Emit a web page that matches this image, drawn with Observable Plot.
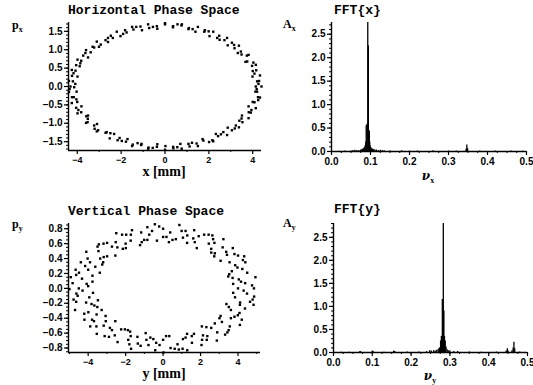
<!DOCTYPE html>
<html><head><meta charset="utf-8">
<script src="https://cdn.jsdelivr.net/npm/d3@7"></script>
<script src="https://cdn.jsdelivr.net/npm/@observablehq/plot@0.6"></script>
<style>
body{margin:0;background:#fff;}
#wrap{position:relative;width:533px;height:385px;overflow:hidden;background:#fff;}
.panel{position:absolute;}
.title{position:absolute;font:bold 13px "Liberation Mono",monospace;white-space:pre;color:#000;line-height:1;}
.lab{position:absolute;font:bold 12px "Liberation Serif",serif;color:#000;white-space:pre;line-height:1;}
.lab sub{font-size:8px;vertical-align:-3px;}
.xl{position:absolute;font:bold 14px "Liberation Serif",serif;color:#000;white-space:pre;line-height:1;transform:translateX(-50%);}
.xl sub{font-size:8px;vertical-align:-3px;font-family:"Liberation Serif",serif;font-style:normal;}
.nu{font-family:"DejaVu Serif",serif;font-style:italic;font-size:12px;}
</style></head><body><div id="wrap"></div>
<script>
// ---- Horizontal phase space (x [mm], p_x) ----
const horizontalPts = [
[4.4,0],[4.14,0],[4.2,.14],[4.29,.15],[3.99,.27],[4.33,.30],[4.16,.44],[4.0,.42],[4.14,.59],[3.97,.56],
[3.75,.68],[3.67,.67],[3.73,.84],[3.81,.86],[3.46,.95],[3.32,.91],[3.37,1.11],[3.17,1.04],[2.86,1.12],[3.05,1.19],
[2.71,1.26],[2.83,1.32],[2.38,1.32],[2.47,1.38],[2.2,1.49],[2.03,1.37],[1.82,1.53],[1.79,1.49],[1.39,1.49],[1.5,1.62],
[1.09,1.59],[1.07,1.56],[.77,1.69],[.75,1.66],[.36,1.61],[.37,1.64],
[0,1.69],[0,1.72],[-.37,1.64],[-.35,1.57],[-.77,1.69],[-.72,1.59],[-1.05,1.53],[-1.12,1.63],[-1.44,1.55],[-1.5,1.62],
[-1.75,1.47],[-1.82,1.53],[-2.2,1.49],[-2.03,1.37],[-2.47,1.38],[-2.38,1.32],[-2.6,1.21],[-2.71,1.26],[-3.11,1.22],[-2.93,1.14],
[-3.23,1.06],[-3.3,1.08],[-3.39,.93],[-3.6,.99],[-3.73,.84],[-3.51,.79],[-3.99,.73],[-3.82,.70],[-3.89,.55],[-4.05,.58],
[-4.08,.43],[-4.25,.45],[-3.99,.27],[-4.24,.29],[-4.38,.15],[-4.2,.14],
[-4.31,0],[-4.14,-.02],[-4.38,-.15],[-4.03,-.14],[-4.16,-.29],[-4.24,-.29],[-4.0,-.42],[-4.25,-.45],[-4.05,-.58],[-3.81,-.54],
[-3.99,-.73],[-3.82,-.70],[-3.51,-.79],[-3.59,-.81],[-3.53,-.97],[-3.6,-.99],[-3.23,-1.06],[-3.1,-1.02],[-3.11,-1.22],[-3.05,-1.19],
[-2.66,-1.24],[-2.71,-1.26],[-2.32,-1.29],[-2.52,-1.41],[-2.16,-1.46],[-2.07,-1.40],[-1.78,-1.5],[-1.71,-1.43],[-1.5,-1.62],[-1.47,-1.58],
[-1.07,-1.56],[-1.09,-1.59],[-.75,-1.66],[-.77,-1.69],[-.35,-1.57],[-.37,-1.64],
[0,-1.72],[.02,-1.62],[.37,-1.64],[.38,-1.68],[.70,-1.56],[.76,-1.69],[1.12,-1.63],[1.07,-1.56],[1.5,-1.62],[1.44,-1.55],
[1.75,-1.47],[1.71,-1.43],[2.16,-1.46],[2.2,-1.49],[2.42,-1.35],[2.32,-1.29],[2.83,-1.32],[2.66,-1.24],[2.86,-1.12],[3.05,-1.19],
[3.23,-1.06],[3.37,-1.11],[3.39,-.93],[3.53,-.97],[3.81,-.86],[3.51,-.79],[3.91,-.71],[3.82,-.70],[3.81,-.54],[4.14,-.59],
[4.08,-.43],[4.0,-.42],[4.33,-.30],[4.24,-.29],[4.12,-.14],[4.2,-.14],
[4.26,.07],[4.08,.35],[4.03,.65],[3.49,.87],[3.15,1.13],[2.49,1.27],[1.99,1.50],[1.26,1.56],[.57,1.69],
[-.55,1.62],[-1.31,1.62],[-1.91,1.43],[-2.6,1.32],[-3.01,1.08],[-3.63,.91],[-3.86,.63],[-4.17,.36],[-4.09,.07],
[-4.35,-.07],[-4.04,-.35],[-3.95,-.64],[-3.52,-.88],[-3.21,-1.15],[-2.49,-1.27],[-1.97,-1.48],[-1.25,-1.54],[-.56,-1.67],
[.56,-1.65],[1.23,-1.53],[2.01,-1.51],[2.55,-1.30],[3.18,-1.14],[3.49,-.87],[3.94,-.64],[4.25,-.37],[4.18,-.07]
];
// ---- Vertical phase space (y [mm], p_y) ----
const verticalPts = [
[4.85,0],[4.0,0],[4.38,.07],[3.74,.06],[4.93,.15],[4.04,.12],[4.49,.21],[3.48,.16],[4.23,.26],[3.67,.23],
[4.39,.35],[3.85,.31],[3.55,.35],[4.33,.43],[3.81,.46],[3.07,.37],[3.37,.49],[3.72,.54],[2.76,.47],[3.18,.55],
[3.22,.66],[2.57,.53],[2.44,.60],[2.67,.66],[1.8,.54],[2.43,.72],[1.9,.70],[1.69,.62],[1.66,.78],[1.28,.61],
[1.06,.68],[1.2,.77],[.87,.85],[.68,.66],[.38,.75],[.31,.62],
[0,.80],[0,.69],[-.44,.86],[-.33,.64],[-.74,.72],[-.84,.82],[-1.01,.65],[-1.17,.75],[-1.66,.78],[-1.23,.58],
[-1.73,.64],[-1.97,.72],[-2.5,.74],[-2.0,.60],[-2.53,.62],[-2.15,.53],[-2.99,.61],[-2.73,.56],[-2.55,.44],[-3.43,.59],
[-3.45,.50],[-2.99,.43],[-4.1,.49],[-3.36,.40],[-3.25,.32],[-4.03,.40],[-4.39,.35],[-3.62,.29],[-4.0,.25],[-3.38,.21],
[-4.49,.21],[-3.77,.17],[-4.93,.15],[-4.33,.13],[-4.08,.06],[-4.83,.07],
[-4.5,0],[-5.0,-.01],[-3.74,-.06],[-4.63,-.07],[-4.78,-.15],[-3.94,-.12],[-4.11,-.19],[-3.48,-.16],[-4.7,-.29],[-3.67,-.23],
[-3.99,-.32],[-4.21,-.34],[-3.55,-.35],[-4.2,-.42],[-3.07,-.37],[-3.69,-.44],[-3.56,-.51],[-3.06,-.44],[-2.55,-.44],[-3.54,-.61],
[-2.73,-.56],[-3.12,-.64],[-2.58,-.63],[-2.24,-.55],[-2.43,-.72],[-1.88,-.56],[-1.73,-.64],[-1.86,-.69],[-1.71,-.81],[-1.37,-.65],
[-.93,-.60],[-1.2,-.77],[-.78,-.76],[-.68,-.66],[-.42,-.83],[-.37,-.73],
[0,-.69],[.02,-.86],[.4,-.80],[.33,-.64],[.77,-.75],[.84,-.82],[1.29,-.83],[1.06,-.68],[1.28,-.61],[1.54,-.73],
[2.05,-.76],[1.65,-.61],[2.13,-.63],[2.33,-.69],[2.07,-.51],[2.87,-.70],[2.89,-.59],[2.57,-.53],[3.43,-.59],[2.76,-.47],
[3.14,-.45],[3.56,-.51],[4.1,-.49],[3.07,-.37],[3.81,-.38],[4.2,-.42],[3.62,-.29],[4.08,-.33],[4.37,-.27],[3.38,-.21],
[4.83,-.22],[4.11,-.19],[3.84,-.12],[4.78,-.15],[4.48,-.07],[3.74,-.06],
[4.75,.04],[3.71,.14],[3.97,.28],[4.0,.44],[2.73,.43],[2.74,.61],[2.19,.72],[1.29,.71],[.50,.65],
[-.59,.77],[-1.14,.62],[-2.19,.72],[-2.44,.55],[-3.5,.56],[-3.2,.35],[-4.16,.30],[-4.64,.18],[-4.0,.03],
[-4.3,-.03],[-4.64,-.18],[-3.51,-.25],[-3.79,-.42],[-3.17,-.50],[-2.89,-.65],[-1.76,-.58],[-1.35,-.74],[-.52,-.68],
[.62,-.81],[1.2,-.66],[2.08,-.69],[2.31,-.52],[3.5,-.56],[3.62,-.40],[3.51,-.25],[4.64,-.18],[4.3,-.03],
[4.16,.09],[3.53,.19],[4.26,.38],[3.41,.45],[2.57,.48],[2.63,.71],[1.61,.67],[.99,.77],[.18,.69],
[-.21,.83],[-.84,.65],[-1.72,.72],[-1.99,.54],[-3.18,.60],[-3.17,.42],[-3.9,.35],[-4.67,.25],[-3.77,.09],
[-4.56,-.10],[-3.82,-.21],[-3.28,-.29],[-3.89,-.51],[-2.84,-.53],[-2.04,-.55],[-1.8,-.75],[-.89,-.69],[-.19,-.76],
[.16,-.64],[1.04,-.81],[1.53,-.64],[2.36,-.64],[3.31,-.62],[3.01,-.40],[3.99,-.36],[4.1,-.22],[4.86,-.11]
];
// ---- FFT{x}: [nu_x, A_x] ----
const fftX = [
[.02,.005],[.035,.008],[.05,.01],[.055,.02],[.06,.025],[.065,.02],[.07,.02],[.075,.03],[.078,.04],[.08,.05],
[.082,.06],[.084,.08],[.086,.12],[.088,.2],[.089,.55],[.091,.58],[.093,2.75],[.0945,2.25],[.096,.45],[.097,.42],
[.098,.2],[.099,.12],[.101,.08],[.103,.06],[.105,.05],[.108,.04],[.111,.03],[.115,.03],[.12,.02],[.125,.025],
[.13,.02],[.135,.015],[.15,.01],[.18,.015],[.2,.008],[.22,.01],[.26,.015],[.3,.01],[.32,.008],[.345,.05],
[.347,.14],[.349,.06],[.38,.008],[.42,.01],[.46,.008],[.49,.006]
];
// ---- FFT{y}: [nu_y, A_y] ----
const fftY = [
[.02,.005],[.04,.008],[.068,.02],[.07,.015],[.1,.035],[.102,.02],[.13,.008],[.155,.03],[.158,.02],[.19,.01],
[.22,.01],[.24,.02],[.248,.04],[.252,.03],[.258,.04],[.262,.03],[.266,.05],[.27,.07],[.273,.1],[.276,.25],
[.278,.35],[.2805,1.15],[.282,.5],[.283,2.8],[.2845,.9],[.286,.35],[.288,.25],[.29,.12],[.293,.06],[.297,.04],
[.3,.03],[.31,.02],[.32,.02],[.35,.01],[.38,.008],[.42,.01],[.445,.03],[.448,.08],[.45,.03],[.46,.04],
[.463,.1],[.465,.22],[.467,.08],[.48,.01]
];
// tick values
const pxTicks = [-1.5,-1.0,-0.5,0,0.5,1.0,1.5];
const pyTicks = [-0.8,-0.6,-0.4,-0.2,0,0.2,0.4,0.6,0.8];
const posTicks = [-4,-2,0,2,4];
const ampTicks = [0,0.5,1.0,1.5,2.0,2.5];
const nuTicks = [0,0.1,0.2,0.3,0.4,0.5];

const wrap = document.getElementById("wrap");
const f1 = d3.format(".1f");
const fi = d3.format("d");
const range = (a, b, s) => d3.range(Math.round((b - a) / s) + 1).map(i => +(a + i * s).toFixed(4));

function panel(o) {
  const svg = Plot.plot({
    width: o.width, height: o.height,
    marginLeft: o.mL, marginRight: o.mR, marginTop: o.mT, marginBottom: o.mB,
    x: {domain: o.xDomain},
    y: {domain: o.yDomain},
    style: {fontFamily: "Liberation Sans, sans-serif", fontSize: "10px", fontWeight: "bold", background: "transparent", overflow: "visible", color: "#000"},
    marks: [
      ...o.marks,
      Plot.axisY({ticks: o.yMinor, tickSize: 2, tickFormat: () => "", label: null, strokeWidth: 1}),
      Plot.axisY({ticks: o.yMajor, tickSize: 4, tickPadding: 2, tickFormat: o.yFmt, label: null, strokeWidth: 1.2, fontSize: o.yFont}),
      Plot.axisX({ticks: o.xMinor, tickSize: 2, tickFormat: () => "", label: null, strokeWidth: 1}),
      Plot.axisX({ticks: o.xMajor, tickSize: 4, tickPadding: 2, tickFormat: o.xFmt, label: null, strokeWidth: 1.2, fontSize: o.xFont}),
      Plot.ruleX([o.xDomain[0]], {strokeWidth: 1.4}),
      Plot.ruleY([o.yDomain[0]], {strokeWidth: 1.4})
    ]
  });
  svg.classList.add("panel");
  svg.style.left = o.left + "px";
  svg.style.top = o.top + "px";
  wrap.appendChild(svg);
}

function text(cls, html, left, top) {
  const d = document.createElement("div");
  d.className = cls; d.innerHTML = html;
  d.style.left = left + "px"; d.style.top = top + "px";
  wrap.appendChild(d);
}

// Horizontal phase space
panel({left: 0, top: 0, width: 268, height: 185, mL: 68, mR: 7, mT: 22, mB: 35,
  xDomain: [-4.4, 4.4], yDomain: [-1.74, 1.74],
  xMajor: posTicks, xMinor: [-3,-1,1,3], xFmt: fi, xFont: 9,
  yMajor: pxTicks, yMinor: range(-1.7, 1.7, 0.1), yFmt: f1, yFont: 10,
  marks: [Plot.dot(horizontalPts, {x: d => d[0], y: d => d[1], symbol: "square", r: 1.35, fill: "#000", stroke: "none"})]
});
// FFT{x}
panel({left: 270, top: 0, width: 263, height: 185, mL: 61, mR: 7, mT: 22, mB: 34,
  xDomain: [0, 0.5], yDomain: [0, 2.75],
  xMajor: nuTicks, xMinor: range(0, 0.5, 0.025), xFmt: f1, xFont: 10,
  yMajor: ampTicks, yMinor: range(0, 2.7, 0.1), yFmt: f1, yFont: 10,
  marks: [Plot.ruleX(fftX, {x: d => d[0], y1: 0, y2: d => d[1], strokeWidth: 1.3, stroke: "#000"})]
});
// Vertical phase space
panel({left: 0, top: 190, width: 268, height: 185, mL: 68, mR: 8, mT: 33, mB: 23,
  xDomain: [-5.05, 5.2], yDomain: [-0.86, 0.87],
  xMajor: posTicks, xMinor: [-5,-3,-1,1,3,5], xFmt: fi, xFont: 9,
  yMajor: pyTicks, yMinor: range(-0.85, 0.85, 0.05), yFmt: f1, yFont: 10,
  marks: [Plot.dot(verticalPts, {x: d => d[0], y: d => d[1], symbol: "square", r: 1.35, fill: "#000", stroke: "none"})]
});
// FFT{y}
panel({left: 270, top: 190, width: 263, height: 185, mL: 63, mR: 6, mT: 33, mB: 23,
  xDomain: [0, 0.5], yDomain: [0, 2.8],
  xMajor: nuTicks, xMinor: range(0, 0.5, 0.025), xFmt: f1, xFont: 10,
  yMajor: ampTicks, yMinor: range(0, 2.8, 0.1), yFmt: f1, yFont: 10,
  marks: [Plot.ruleX(fftY, {x: d => d[0], y1: 0, y2: d => d[1], strokeWidth: 1.3, stroke: "#000"})]
});

// Titles and axis labels
text("title", "Horizontal Phase Space", 68, 4);
text("title", "FFT{x}", 334, 4);
text("title", "Vertical Phase Space", 68, 205);
text("title", "FFT{y}", 334, 203);
text("lab", "p<sub>x</sub>", 12, 19);
text("lab", "A<sub>x</sub>", 283, 18);
text("lab", "p<sub>y</sub>", 12, 218);
text("lab", "A<sub>y</sub>", 283, 217);
text("xl", "x [mm]", 164, 165);
text("xl", "<span class='nu'>&nu;</span><sub>x</sub>", 428, 169);
text("xl", "y [mm]", 164, 367);
text("xl", "<span class='nu'>&nu;</span><sub>y</sub>", 430, 369);
</script></body></html>
